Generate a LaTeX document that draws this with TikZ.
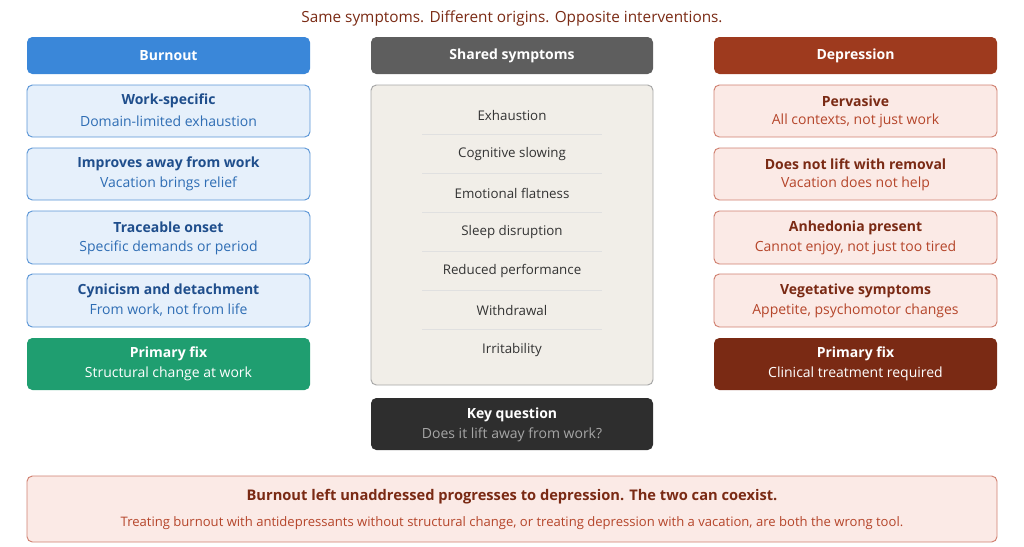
\documentclass[tikz,border=0pt]{standalone}
\usepackage{fontspec}
\setmainfont{Open Sans}
\begin{document}
\begin{tikzpicture}[x=0.75pt,y=-0.75pt,
 box/.style={rounded corners=4pt,line width=0.7pt},
 hdr/.style={box,draw=none,text=white,font=\fontsize{10.5}{12}\selectfont\bfseries},
 lb/.style={box,fill=lbF,draw=lbD},
 rb/.style={box,fill=rbF,draw=rbD},
 t/.style={font=\fontsize{10.5}{12}\selectfont\bfseries},
 s/.style={font=\fontsize{10.5}{12}\selectfont},
 m/.style={font=\fontsize{10}{12}\selectfont,text=black!80}]
\definecolor{lbF}{HTML}{E6F0FB}\definecolor{lbD}{HTML}{5A95D6}
\definecolor{lbT}{HTML}{1F4E8C}\definecolor{lbS}{HTML}{2E6DB4}
\definecolor{rbF}{HTML}{FBEAE6}\definecolor{rbD}{HTML}{D08070}
\definecolor{rbT}{HTML}{7A2A14}\definecolor{rbS}{HTML}{B5452A}
\definecolor{blueH}{HTML}{3A87D9}\definecolor{grayH}{HTML}{5E5E5E}
\definecolor{redH}{HTML}{9E3A1E}\definecolor{greenB}{HTML}{1F9E70}
\definecolor{darkR}{HTML}{7A2A14}\definecolor{midF}{HTML}{F1EEE8}
\path[use as bounding box] (0,0) rectangle (1024,546);
\node[text=rbT,font=\fontsize{11.5}{13}\selectfont] (title) at (512,18) {Same symptoms. Different origins. Opposite interventions.};
% headers
\fill[blueH,rounded corners=4pt] (27,37) rectangle (310,74); \node[hdr] (hb) at (168.5,55.5) {Burnout};
\fill[grayH,rounded corners=4pt] (371,37) rectangle (653,74); \node[hdr] (hs) at (512,55.5) {Shared symptoms};
\fill[redH,rounded corners=4pt] (714,37) rectangle (997,74); \node[hdr] (hd) at (855.5,55.5) {Depression};
% left
\foreach \a/\b/\ti/\su [count=\i] in {85/137/Work-specific/Domain-limited exhaustion,148/200/Improves away from work/Vacation brings relief,211/264/Traceable onset/Specific demands or period,274/327/Cynicism and detachment/{From work, not from life}}{
 \draw[lb] (27,\a) rectangle (310,\b);
 \node[t,text=lbT] (l\i t) at (168.5,{(\a+\b)/2-10}) {\ti};
 \node[s,text=lbS] (l\i s) at (168.5,{(\a+\b)/2+10}) {\su};}
\fill[greenB,rounded corners=4pt] (27,338) rectangle (310,390);
\node[t,text=white] (lft) at (168.5,354) {Primary fix};
\node[s,text=white] (lfs) at (168.5,374) {Structural change at work};
% right
\foreach \a/\b/\ti/\su [count=\i] in {85/137/Pervasive/{All contexts, not just work},148/200/Does not lift with removal/Vacation does not help,211/264/Anhedonia present/{Cannot enjoy, not just too tired},274/327/Vegetative symptoms/{Appetite, psychomotor changes}}{
 \draw[rb] (714,\a) rectangle (997,\b);
 \node[t,text=rbT] (r\i t) at (855.5,{(\a+\b)/2-10}) {\ti};
 \node[s,text=rbS] (r\i s) at (855.5,{(\a+\b)/2+10}) {\su};}
\fill[darkR,rounded corners=4pt] (714,338) rectangle (997,390);
\node[t,text=white] (rft) at (855.5,354) {Primary fix};
\node[s,text=white] (rfs) at (855.5,374) {Clinical treatment required};
% middle
\draw[box,fill=midF,draw=black!35] (371,85) rectangle (653,385);
\foreach \y/\tx [count=\i] in {115/Exhaustion,154/Cognitive slowing,193/Emotional flatness,232/Sleep disruption,271/Reduced performance,310/Withdrawal,350/Irritability}{
 \node[m] (m\i) at (512,\y) {\tx};}
\foreach \y in {134,173,212,251,290,329}{\draw[black!12,line width=0.6pt] (422,\y) -- (602,\y);}
\fill[black!82,rounded corners=4pt] (371,398) rectangle (653,450);
\node[t,text=white] (kq) at (512,415) {Key question};
\node[s,text=black!35] (kqs) at (512,435) {Does it lift away from work?};
% bottom
\draw[rb] (27,476) rectangle (997,542);
\node[font=\fontsize{11}{13}\selectfont\bfseries,text=rbT] (b1) at (512,497) {Burnout left unaddressed progresses to depression. The two can coexist.};
\node[font=\fontsize{9.8}{12}\selectfont,text=rbS] (b2) at (512,523) {Treating burnout with antidepressants without structural change, or treating depression with a vacation, are both the wrong tool.};
\end{tikzpicture}
\end{document}
